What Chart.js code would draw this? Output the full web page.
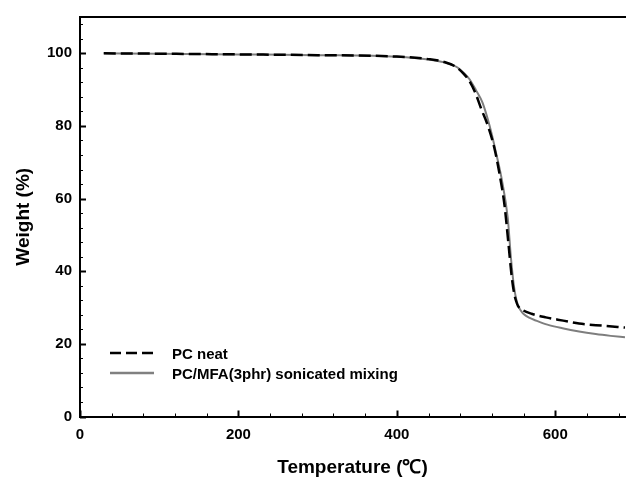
<!DOCTYPE html>
<html><head><meta charset="utf-8">
<script src="https://cdn.jsdelivr.net/npm/chart.js@4/dist/chart.umd.min.js"></script>
<style>
html,body{margin:0;padding:0;background:#fff;}
#wrap{position:relative;width:626px;height:477px;overflow:hidden;}
#legend{position:absolute;left:110px;top:343px;font:bold 15px "Liberation Sans",Arial,sans-serif;color:#000;}
.row{display:flex;align-items:center;height:20px;white-space:nowrap;}
.row svg{margin-right:18px;display:block;}
</style></head><body>
<div id="wrap"><canvas id="c" width="626" height="477"></canvas>
<div id="legend">
<div class="row"><svg width="44" height="6"><line x1="0" y1="3" x2="44" y2="3" stroke="#000" stroke-width="2.5" stroke-dasharray="11 5"/></svg><span id="l0"></span></div>
<div class="row"><svg width="44" height="6"><line x1="0" y1="3" x2="44" y2="3" stroke="#808080" stroke-width="2.5"/></svg><span id="l1"></span></div>
</div></div>
<script>
const seriesNames = ['PC neat', 'PC/MFA(3phr) sonicated mixing'];
const tempNeat   = [30,100,200,300,400,440,460,475,485,492,500,506,515,523,529,536,541,545,548,550.5,553,559,570,588,610,630,660,688];
const weightNeat = [100,99.9,99.7,99.5,99.1,98.4,97.6,96.2,94.2,92.2,88.6,85,80,74,67.5,58,47.3,38.5,34,31.8,30.4,29.3,28.3,27.3,26.4,25.6,25,24.5];
const tempMfa    = [30,100,200,300,400,440,460,475,485,492,500,508,517,525,533,540,544,547.5,550,552.5,556,560,567,576,590,609,630,651,670,688];
const weightMfa  = [100,99.9,99.7,99.5,99.05,98.3,97.5,96.3,94.5,92.8,89.8,86.5,80.1,72.8,64.6,54.6,43.7,36.4,33,30.9,29.3,28.2,27.2,26.4,25.3,24.3,23.4,22.7,22.2,21.8];
const xTicks = [0,200,400,600];
const yTicks = [0,20,40,60,80,100];
const xTitle = 'Temperature (℃)';
const yTitle = 'Weight (%)';

document.getElementById('l0').textContent = seriesNames[0];
document.getElementById('l1').textContent = seriesNames[1];

const pts = (xs, ys) => xs.map((v,i)=>({x:v,y:ys[i]}));
Chart.defaults.font.family = '"Liberation Sans", Arial, sans-serif';
Chart.defaults.color = '#000';

const frame = {
  id:'frame',
  afterDatasetsDraw(chart){
    const {ctx, chartArea:a, scales:{x,y}} = chart;
    ctx.save();
    ctx.strokeStyle = '#000';
    ctx.lineWidth = 2;
    ctx.beginPath(); ctx.moveTo(a.left-1, a.top); ctx.lineTo(a.right+2, a.top); ctx.stroke();
    for (let v = 0; v <= x.max; v += 40) {
      const p = Math.round(x.getPixelForValue(v)) + 0.5, major = v % 200 === 0;
      ctx.lineWidth = major ? 2 : 1;
      ctx.beginPath(); ctx.moveTo(p, a.bottom); ctx.lineTo(p, a.bottom - (major ? 6 : 3)); ctx.stroke();
    }
    for (let v = 0; v <= y.max; v += 4) {
      const p = Math.round(y.getPixelForValue(v)) + 0.5, major = v % 20 === 0;
      ctx.lineWidth = major ? 2 : 1;
      ctx.beginPath(); ctx.moveTo(a.left, p); ctx.lineTo(a.left + (major ? 6 : 3), p); ctx.stroke();
    }
    ctx.restore();
  }
};

new Chart(document.getElementById('c'), {
  type:'line',
  data:{datasets:[
    {label:seriesNames[0], data:pts(tempNeat, weightNeat), borderColor:'#000', borderWidth:2.5, borderDash:[12,5], pointRadius:0, cubicInterpolationMode:'monotone', fill:false},
    {label:seriesNames[1], data:pts(tempMfa, weightMfa), borderColor:'#7e7e7e', borderWidth:2, pointRadius:0, cubicInterpolationMode:'monotone', fill:false}
  ]},
  options:{
    responsive:false, animation:false, devicePixelRatio:1,
    layout:{padding:{top:14,right:1,left:0,bottom:0}},
    plugins:{legend:{display:false}, tooltip:{enabled:false}},
    scales:{
      x:{type:'linear', position:'bottom', min:0, max:688,
        afterBuildTicks:s=>{s.ticks = xTicks.map(v=>({value:v}));},
        afterFit:s=>{s.height = 60.5;},
        ticks:{font:{size:15,weight:'bold'}, color:'#000', padding:9, maxRotation:0, autoSkip:false},
        grid:{display:true, drawOnChartArea:false, drawTicks:false},
        border:{display:true, color:'#000', width:2},
        title:{display:true, text:xTitle, font:{size:19,weight:'bold',lineHeight:1}, color:'#000', padding:{top:0,bottom:0}}
      },
      y:{type:'linear', min:0, max:110,
        afterBuildTicks:s=>{s.ticks = yTicks.map(v=>({value:v}));},
        afterFit:s=>{s.width = 80;},
        ticks:{font:{size:15,weight:'bold'}, color:'#000', padding:8},
        grid:{display:true, drawOnChartArea:false, drawTicks:false},
        border:{display:true, color:'#000', width:2},
        title:{display:true, text:yTitle, font:{size:19,weight:'bold',lineHeight:1}, color:'#000', padding:{top:14,bottom:0}}
      }
    }
  },
  plugins:[frame]
});
</script>
</body></html>
